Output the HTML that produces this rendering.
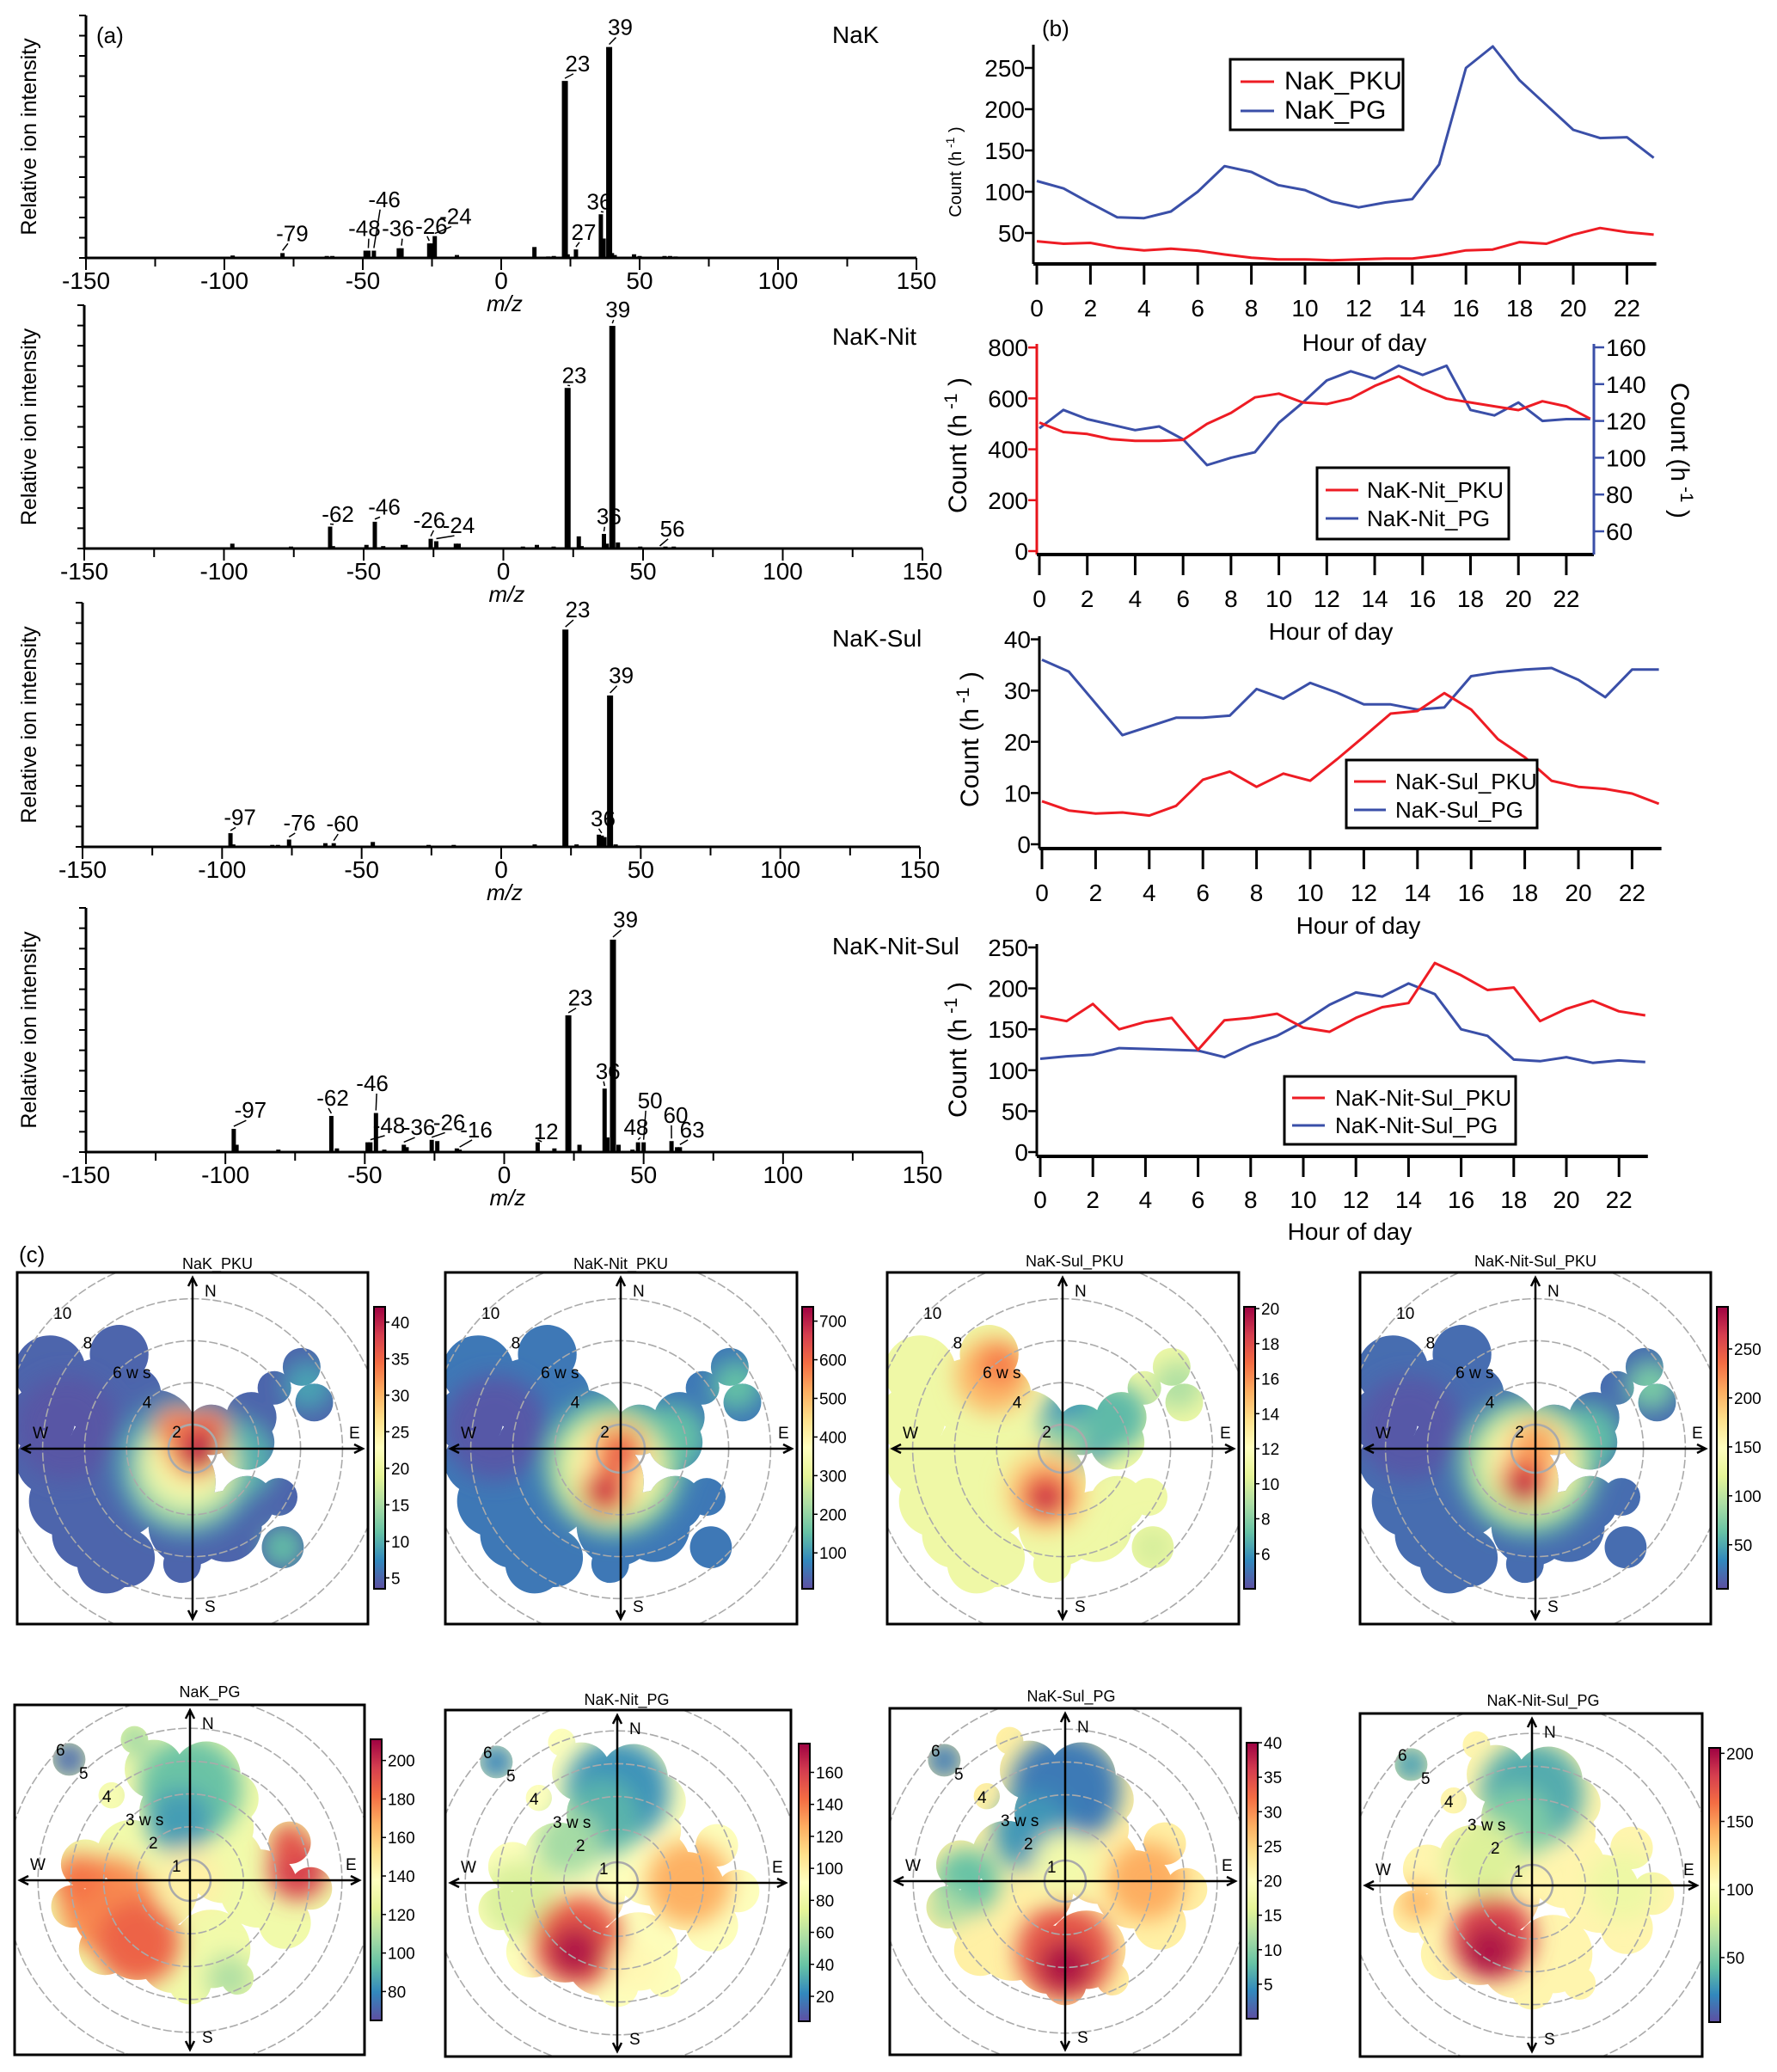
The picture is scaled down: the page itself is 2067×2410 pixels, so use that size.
<!DOCTYPE html>
<html><head><meta charset="utf-8">
<style>
body{margin:0;background:#fff}
svg{display:block}
text{font-family:"Liberation Sans",sans-serif;fill:#000}
</style></head>
<body>
<svg id="fig" xmlns="http://www.w3.org/2000/svg" width="2067" height="2410" viewBox="0 0 2067 2410">
<defs id="defs"></defs>
<rect x="0" y="0" width="2067" height="2410" fill="#fff"></rect>
</svg>
<script>
// ---------------- (a) spectra data ----------------
const spec1Mz=[-97,-79,-74,-63,-61,-49,-48,-46,-37,-36,-26,-25,-24,-16,12,17,19,23,24,27,36,37,39,40,41,48,50,59,61,63];
const spec1Int=[.01,.02,.005,.008,.008,.03,.03,.03,.04,.04,.06,.06,.09,.012,.045,.006,.008,.73,.015,.035,.18,.08,.87,.02,.012,.015,.008,.008,.008,.006];
const spec1LabText=['39','23','36','27','-46','-48','-36','-26','-24','-79'];
const spec1LabAt=[39,23,36,27,-46,-48,-36,-26,-24,-79];
const spec1LabMz=[43,27.6,35.4,29.8,-42.2,-49.4,-37.3,-25.2,-16.5,-75.5];
const spec1LabVal=[.92,.77,.2,.075,.21,.09,.09,.1,.14,.07];

const spec2Mz=[-97,-80,-76,-62,-61,-49,-46,-43,-41,-36,-35,-26,-24,-17,-16,7,12,18,23,27,28,36,37,39,41,46,49,53,58,61,63];
const spec2Int=[.02,.005,.008,.09,.01,.015,.11,.01,.005,.015,.015,.04,.03,.02,.02,.008,.015,.008,.66,.05,.01,.06,.02,.915,.025,.005,.008,.005,.008,.008,.005];
const spec2LabText=['39','23','36','56','-62','-46','-26','-24'];
const spec2LabAt=[39,23,36,56,-62,-46,-26,-24];
const spec2LabMz=[41,25.4,37.8,60.5,-59.2,-42.6,-26.5,-16];
const spec2LabVal=[.95,.68,.1,.05,.11,.14,.085,.063];

const spec3Mz=[-97,-96,-82,-80,-76,-63,-60,-50,-46,-43,-35,-26,-17,7,12,18,23,27,35,36,37,39,41,49,51,59,62];
const spec3Int=[.056,.01,.008,.008,.03,.015,.015,.005,.02,.005,.005,.008,.008,.005,.01,.005,.89,.01,.05,.046,.04,.62,.01,.006,.005,.005,.005];
const spec3LabText=['23','39','36','-97','-76','-60'];
const spec3LabAt=[23,39,36,-97,-76,-60];
const spec3LabMz=[27.4,43,36.5,-93.6,-72.3,-56.9];
const spec3LabVal=[.94,.67,.085,.09,.067,.063];

const spec4Mz=[-97,-96,-81,-73,-62,-60,-49,-48,-46,-43,-36,-35,-26,-24,-17,-16,7,12,18,23,27,36,37,39,41,46,48,50,56,60,62,63,74];
const spec4Int=[.095,.03,.01,.005,.148,.015,.04,.04,.16,.01,.03,.02,.05,.045,.015,.01,.005,.04,.015,.56,.03,.26,.06,.87,.03,.01,.04,.04,.005,.045,.02,.02,.005];
const spec4LabText=['39','23','36','50','60','63','48','12','-16','-26','-36','-48','-46','-62','-97'];
const spec4LabAt=[39,23,36,50,60,63,48,12,-16,-26,-36,-48,-46,-62,-97];
const spec4LabMz=[43.5,27.3,37.2,52.3,61.5,67.4,47.3,15,-10,-19.7,-30.5,-41.3,-47.3,-61.5,-91];
const spec4LabVal=[.92,.6,.3,.18,.12,.06,.07,.053,.06,.09,.07,.078,.25,.19,.14];

const specNames=['NaK','NaK-Nit','NaK-Sul','NaK-Nit-Sul'];
const mzTicks=[-150,-100,-50,0,50,100,150];

// ---------------- (b) diurnal data ----------------
const hours=[0,1,2,3,4,5,6,7,8,9,10,11,12,13,14,15,16,17,18,19,20,21,22,23];
const hourTicks=[0,2,4,6,8,10,12,14,16,18,20,22];
const nakPKU=[40,37,38,32,29,31,28.5,24,20,18,18,17,18,19,19,23,29,30,39,37,48,56,51,48];
const nakPG=[113,104,86,69,68,76,100,131,124,108,102,88,81,87,91,133,250,276,235,205,175,165,166,141];
const nitPKU=[505,468,460,440,433,433,437,500,543,604,619,584,578,600,649,687,637,599,584,569,554,589,569,520];
const nitPG=[116,126,121,118,115,117,110,96,100,103,119,130,142,147,143,150,145,150,126,123,130,120,121,121];
const sulPKU=[8.4,6.6,6.0,6.2,5.6,7.5,12.6,14.2,11.2,13.8,12.4,16.6,21.0,25.5,26,29.5,26.3,20.5,17,12.4,11.2,10.8,9.9,7.9];
const sulPG=[36,33.7,27.5,21.3,23,24.7,24.7,25.1,30.3,28.4,31.5,29.6,27.3,27.3,26.3,26.7,32.8,33.6,34.1,34.4,32.1,28.7,34.1,34.1];
const nsPKU=[166,160,181,150,159,164,125,161,164,169,152,147,164,177,182,231,216,198,201,160,175,185,172,167];
const nsPG=[114,117,119,127,126,125,124,116,131,142,159,180,195,190,206,193,150,142,113,111,116,109,112,110];
const c1Ticks=[50,100,150,200,250];
const c2TicksL=[0,200,400,600,800];
const c2TicksR=[60,80,100,120,140,160];
const c3Ticks=[0,10,20,30,40];
const c4Ticks=[0,50,100,150,200,250];

// ---------------- (c) polar data: wind u,v (m/s), radius (m/s), value ----------------
const maskRow1=[[-6.8,3.7,1.7],[-7.2,1.4,1.6],[-6.8,-.6,1.6],[-6.1,-2.5,1.7],[-5.1,-4.1,1.6],[-4.1,-5.5,1.4],[-3.5,4.5,1.4],[-4.5,2.5,1.8],[-4.1,0,1.8],[-3.3,-2.5,1.7],[-2.8,2.6,1.3],[-1.8,.8,2.0],[-1.2,-1.6,2.3],[-.2,-3.7,1.9],[1.6,-3.7,1.7],[2.6,-2.6,1.3],[2.6,.3,1.3],[2.8,1.5,1.2],[.9,.9,1.2],[-3.2,-5.2,1.4],[-.5,-5.5,.9],[5.2,3.9,.9],[5.8,2.2,.9],[3.9,2.9,.8],[4.3,-4.7,1.0],[4.1,-2.3,.9]];
const maskRow2=[[-3.7,3.7,.5],[-1.7,4.3,.42],[-1.1,3.4,.9],[.5,3.2,1.05],[1.3,2.5,.8],[-.5,2.1,1.05],[1.05,1.6,.9],[-2.4,2.6,.4],[-3.2,.5,.75],[-3.6,-.8,.65],[-2.5,-1.05,1.05],[-1.8,.8,1.05],[-1.05,-.25,1.3],[0,.8,1.2],[1.05,.5,1.2],[2.1,-.25,1.2],[3.05,1.15,.65],[3.7,-.25,.65],[-1.6,-1.85,1.2],[-.5,-2.4,1.05],[.65,-2.1,1.2],[1.45,-3.0,.5],[0,-3.15,.65],[-2.6,-2.1,.8],[2.9,-1.3,.8]];

const nakPkuBase=5;
const nakPkuSpots=[[-6,1,2.5,4],[-.3,-.8,3.4,9],[2,-.5,2.0,10],[5.5,3,1.2,9],[4.3,-4.7,1,11],[-.3,-1,2.6,15],[-.2,-.6,2.1,21],[0,0,1.6,28],[-.8,1.0,1.0,33],[.8,1.0,.9,34],[.2,-.1,1.1,38],[.5,0,.7,41]];
const nitPkuBase=60;
const nitPkuSpots=[[-6,1,2.5,20],[-.3,-.8,3.4,150],[2.5,.5,1.6,150],[5.5,3,1.2,150],[-.4,-1,2.7,280],[-.3,-.8,2.0,400],[-.1,0,1.3,520],[-.7,-2,1.2,580],[0,-.2,.9,620],[-.8,-2,.7,690]];
const sulPkuBase=11;
const sulPkuSpots=[[-3.3,3.5,1.8,15],[-3,4,1,16.5],[1,1.2,2.0,6],[2.5,1.5,1.6,7],[5.5,3,1.2,9],[4.3,-4.7,1,10],[.2,.3,1.1,8],[-.8,-2,2.0,14],[-.8,-2.2,1.3,17],[-.8,-2.4,.7,19]];
const nsPkuBase=20;
const nsPkuSpots=[[-6,1,2.5,10],[-.3,-.8,3.4,60],[2.5,.5,1.6,60],[5.5,3,1.2,70],[-.3,-.8,2.7,110],[-.2,-.6,2.0,160],[0,0,1.3,200],[-.5,-1.5,1.2,240],[0,.5,.7,215],[-.6,-1.8,.7,280]];

const nakPgBase=130;
const nakPgSpots=[[0,2.8,1.6,95],[-.3,1.8,1.0,85],[-3.7,3.7,.6,72],[-1.7,4.3,.5,105],[-2.5,-.8,1.5,175],[-1.6,-1.9,1.3,185],[-3.4,0,.8,180],[-2.4,2.6,.5,135],[3.3,.3,.9,195],[3.05,1.15,.6,190],[1.2,-3,.7,110],[0,0,1,145]];
const nitPgBase=90;
const nitPgSpots=[[0,2.8,1.6,25],[-.5,2,1.2,35],[-1.5,1.2,1,55],[-3.7,3.7,.6,20],[-3,-.5,1.2,70],[-1.2,-1.8,1.4,150],[-1.3,-2.1,.8,172],[2.2,0,1.3,125],[.6,-2.6,.8,95]];
const sulPgBase=22;
const sulPgSpots=[[0,2.8,1.7,3],[-1,1.5,1.2,5],[-3.7,3.7,.6,3],[-3,0,1,8],[-3.6,-.8,.6,12],[0,.5,1,18],[2.5,0,1.2,28],[0,-2.2,1.5,34],[0,-2.6,.8,39]];
const nsPgBase=110;
const nsPgSpots=[[0,2.8,1.6,35],[-.5,1.9,1.1,50],[-3.7,3.7,.6,30],[-1.5,.8,1.2,80],[-1.2,-1.6,1.3,180],[-1.3,-2,.8,198],[-3.5,-.5,.6,140],[2.8,0,1.1,90]];

const cb1Ticks=[5,10,15,20,25,30,35,40];
const cb2Ticks=[100,200,300,400,500,600,700];
const cb3Ticks=[6,8,10,12,14,16,18,20];
const cb4Ticks=[50,100,150,200,250];
const cb5Ticks=[80,100,120,140,160,180,200];
const cb6Ticks=[20,40,60,80,100,120,140,160];
const cb7Ticks=[5,10,15,20,25,30,35,40];
const cb8Ticks=[50,100,150,200];

// =========================================================
const NS='http://www.w3.org/2000/svg';
const svg=document.getElementById('fig');
const defs=document.getElementById('defs');
function mk(tag,attrs,parent){const e=document.createElementNS(NS,tag);for(const k in attrs)e.setAttribute(k,attrs[k]);(parent||svg).appendChild(e);return e;}
function txt(s,x,y,size,attrs,parent){const e=mk('text',Object.assign({x:x,y:y,'font-size':size},attrs||{}),parent);e.textContent=s;return e;}

// ---------------- spectra ----------------
const specLayout=[{x0:100,x1:1066,base:300,top:18,nameY:50},{x0:98,x1:1073,base:638,top:355,nameY:401},{x0:96,x1:1070,base:985,top:701,nameY:752},{x0:100,x1:1073,base:1340,top:1056,nameY:1110}];
const specData=[[spec1Mz,spec1Int,spec1LabText,spec1LabAt,spec1LabMz,spec1LabVal],[spec2Mz,spec2Int,spec2LabText,spec2LabAt,spec2LabMz,spec2LabVal],[spec3Mz,spec3Int,spec3LabText,spec3LabAt,spec3LabMz,spec3LabVal],[spec4Mz,spec4Int,spec4LabText,spec4LabAt,spec4LabMz,spec4LabVal]];
const pa=txt('(a)',112,50,26);


specLayout.forEach((L,i)=>{
  const g=mk('g',{});
  
  
  const xs=m=>L.x0+(m+150)/300*(L.x1-L.x0);
  const ys=v=>L.base-v*(L.base-L.top);
  const [mz,iv,lt,la,lm,lv]=specData[i];
  mz.forEach((m,j)=>{
    const w=(iv[j]>0.3)?7:5;
    const b=mk('rect',{x:xs(m)-w/2,y:ys(iv[j]),width:w,height:L.base-ys(iv[j]),fill:'#000'},g);
    
    
  });
  lt.forEach((t,j)=>{
    const tx=xs(lm[j]),ty=ys(lv[j]);
    const bx=xs(la[j]);
    const top=ys(iv[mz.indexOf(la[j])]||0);
    const ln=mk('line',{x1:bx,y1:top-3,x2:tx-(tx>bx?10:-10)*0.5,y2:ty+3,stroke:'#000','stroke-width':1.5},g);
    
    
    const e=txt(t,tx,ty,26,{'text-anchor':'middle'},g);
    
    
  });
  const ax=mk('path',{d:`M${L.x0},${L.top} V${L.base} H${L.x1}`,fill:'none',stroke:'#000','stroke-width':3},g);
  
  
  let d='';
  for(let k=0;k<=12;k++){const y=L.base-k*(L.base-L.top)/12;d+=`M${L.x0},${y} h-8 `;}
  for(let m=-150;m<=150;m+=25){d+=`M${xs(m)},${L.base} v${m%50===0?14:10} `;}
  const tk=mk('path',{d:d,stroke:'#000','stroke-width':2},g);
  
  
  mzTicks.forEach(m=>{
    const e=txt(String(m),xs(m),L.base+36,28,{'text-anchor':'middle'},g);
    
    
  });
  const xl=txt('m/z',(xs(0)+4),L.base+62,26,{'text-anchor':'middle','font-style':'italic'},g);
  
  
  const yc=(L.top+L.base)/2;
  const yl=txt('Relative ion intensity',42,yc,25,{'text-anchor':'middle',transform:`rotate(-90 42 ${yc})`},g);
  
  
  const nm=txt(specNames[i],968,L.nameY,28,{},g);
  
  
});

// ---------------- diurnal charts ----------------
function countLabel(x,y,size,color,rot,g){
  const e=mk('text',{x:x,y:y,'font-size':size,'text-anchor':'middle',fill:color,transform:`rotate(${rot} ${x} ${y})`},g);
  const t1=mk('tspan',{},e);t1.textContent='Count (h';
  const t2=mk('tspan',{'baseline-shift':'super','font-size':size*0.7},e);t2.textContent=' -1';
  const t3=mk('tspan',{},e);t3.textContent=' )';
  return e;
}
const charts=[
 {name:'nak',x0:1202,h0:1206,dx:31.2,base:307,top:56,ys:v=>319-v*0.96,ticks:c1Ticks,s1:nakPKU,s2:nakPG,ys2:null,lab1:'NaK_PKU',lab2:'NaK_PG',tickY:368,hodX:1587,hodY:408,ylX:1118,ylY:200,ylSize:20,ylColor:'#000',leg:[1431,69,201,82],legFont:30,legRows:[104,138],legLine:[1443,1482],legText:1494},
 {name:'nak-nit',x0:1206,h0:1209,dx:27.86,base:645,top:404,ys:v=>641-v*0.296,ticks:c2TicksL,s1:nitPKU,s2:nitPG,ys2:v=>618-(v-60)*2.14,xR:1854,lab1:'NaK-Nit_PKU',lab2:'NaK-Nit_PG',tickY:706,hodX:1548,hodY:744,ylX:1124,ylY:518,ylSize:30,ylColor:'#e8141b',leg:[1532,544,223,83],legFont:26,legRows:[579,612],legLine:[1542,1580],legText:1590},
 {name:'nak-sul',x0:1209,h0:1212,dx:31.2,base:987,top:744,ys:v=>982-v*5.96,ticks:c3Ticks,s1:sulPKU,s2:sulPG,ys2:null,lab1:'NaK-Sul_PKU',lab2:'NaK-Sul_PG',tickY:1048,hodX:1580,hodY:1086,ylX:1138,ylY:860,ylSize:30,ylColor:'#000',leg:[1566,884,222,79],legFont:26,legRows:[918,951],legLine:[1575,1612],legText:1623},
 {name:'nak-nit-sul',x0:1206,h0:1210,dx:30.6,base:1345,top:1102,ys:v=>1340-v*0.952,ticks:c4Ticks,s1:nsPKU,s2:nsPG,ys2:null,lab1:'NaK-Nit-Sul_PKU',lab2:'NaK-Nit-Sul_PG',tickY:1405,hodX:1570,hodY:1442,ylX:1124,ylY:1221,ylSize:30,ylColor:'#000',leg:[1494,1252,269,79],legFont:26,legRows:[1286,1318],legLine:[1503,1541],legText:1553}
];
const pb=txt('(b)',1212,42,26);


charts.forEach(C=>{
  const g=mk('g',{});
  
  
  const xs=h=>C.h0+h*C.dx;
  const xEnd=C.xR||xs(23)+3;
  const leftColor=C.ys2?'#e8141b':'#000';
  const p1=hours.map((h,i)=>`${i?'L':'M'}${xs(h).toFixed(1)},${C.ys(C.s1[i]).toFixed(1)}`).join(' ');
  const ys2=C.ys2||C.ys;
  const p2=hours.map((h,i)=>`${i?'L':'M'}${xs(h).toFixed(1)},${ys2(C.s2[i]).toFixed(1)}`).join(' ');
  const l2=mk('path',{d:p2,fill:'none',stroke:'#3a4fa8','stroke-width':3,'stroke-linejoin':'round'},g);
  
  
  const l1=mk('path',{d:p1,fill:'none',stroke:'#ee1c24','stroke-width':3,'stroke-linejoin':'round'},g);
  
  
  const ya=mk('line',{x1:C.x0,y1:C.top-4,x2:C.x0,y2:C.base,stroke:leftColor,'stroke-width':3},g);
  
  
  const xa=mk('line',{x1:C.x0,y1:C.base,x2:xEnd,y2:C.base,stroke:'#000','stroke-width':4},g);
  
  
  let d='';
  hourTicks.forEach(h=>{d+=`M${xs(h)},${C.base} v24 `;});
  const xt=mk('path',{d:d,stroke:'#000','stroke-width':3},g);
  
  
  hourTicks.forEach(h=>{
    const e=txt(String(h),xs(h),C.tickY,28,{'text-anchor':'middle'},g);
    
    
  });
  C.ticks.forEach(v=>{
    const y=C.ys(v);
    const t=mk('line',{x1:C.x0-10,y1:y,x2:C.x0,y2:y,stroke:leftColor,'stroke-width':2.5},g);
    
    
    const e=txt(String(v),C.x0-10,y+10,28,{'text-anchor':'end',fill:leftColor},g);
    
    
  });
  if(C.ys2){
    const ra=mk('line',{x1:C.xR,y1:C.top-4,x2:C.xR,y2:C.base,stroke:'#3a4fa8','stroke-width':3},g);
    
    
    c2TicksR.forEach(v=>{
      const y=C.ys2(v);
      const t=mk('line',{x1:C.xR,y1:y,x2:C.xR+12,y2:y,stroke:'#3a4fa8','stroke-width':2.5},g);
      
      
      const e=txt(String(v),C.xR+14,y+10,28,{fill:'#3a4fa8'},g);
      
      
    });
    const rl=countLabel(1944,524,30,'#3a4fa8',90,g);
    
    
  }
  const yl=countLabel(C.ylX,C.ylY,C.ylSize,C.ylColor,-90,g);
  
  
  const hod=txt('Hour of day',C.hodX,C.hodY,28,{'text-anchor':'middle'},g);
  
  
  const lg=mk('g',{},g);
  
  
  mk('rect',{x:C.leg[0],y:C.leg[1],width:C.leg[2],height:C.leg[3],fill:'#fff',stroke:'#000','stroke-width':3},lg);
  [[C.lab1,'#ee1c24'],[C.lab2,'#3a4fa8']].forEach((it,k)=>{
    const y=C.legRows[k];
    const s=mk('line',{x1:C.legLine[0],y1:y-9,x2:C.legLine[1],y2:y-9,stroke:it[1],'stroke-width':3},lg);
    
    
    const e=txt(it[0],C.legText,y,C.legFont,{},lg);
    
    
  });
});

// ---------------- polar plots ----------------
const spectral=['#5e4fa2','#3288bd','#66c2a5','#abdda4','#e6f598','#ffffbf','#fee08b','#fdae61','#f46d43','#d53e4f','#9e0142'];
function hex(c){return [1,3,5].map(i=>parseInt(c.substr(i,2),16));}
function cmap(v,min,max){
  let t=(v-min)/(max-min);t=Math.max(0,Math.min(1,t))*(spectral.length-1);
  const i=Math.min(Math.floor(t),spectral.length-2),f=t-i;
  const a=hex(spectral[i]),b=hex(spectral[i+1]);
  return 'rgb('+a.map((x,k)=>Math.round(x+(b[k]-x)*f)).join(',')+')';
}
const grad=mk('linearGradient',{id:'spec',x1:0,y1:1,x2:0,y2:0},defs);
spectral.forEach((c,i)=>mk('stop',{offset:i/(spectral.length-1),'stop-color':c},grad));
const blurF=mk('filter',{id:'blur',x:'-60%',y:'-60%',width:'220%',height:'220%'},defs);
mk('feGaussianBlur',{stdDeviation:13},blurF);

const r1=s=>s<=2?s*14:28+(s-2)*24.4;
const r2=s=>s<=1?s*24:24+(s-1)*38.2;
const polars=[
 {name:'NaK_PKU',box:[20,1480,408,409],cx:224,cy:1685,k:24.4,mask:maskRow1,base:nakPkuBase,spots:nakPkuSpots,min:3.5,max:42.1,ticks:cb1Ticks,bar:[435,1520,1848],tx:253,ty:1476,row:1},
 {name:'NaK-Nit_PKU',box:[518,1480,409,409],cx:722,cy:1685,k:24.4,mask:maskRow1,base:nitPkuBase,spots:nitPkuSpots,min:7,max:737,ticks:cb2Ticks,bar:[933,1520,1848],tx:722,ty:1476,row:1},
 {name:'NaK-Sul_PKU',box:[1032,1480,409,409],cx:1236,cy:1685,k:24.4,mask:maskRow1,base:sulPkuBase,spots:sulPkuSpots,min:4,max:20.1,ticks:cb3Ticks,bar:[1447,1520,1848],tx:1250,ty:1473,row:1},
 {name:'NaK-Nit-Sul_PKU',box:[1582,1480,408,409],cx:1786,cy:1685,k:24.4,mask:maskRow1,base:nsPkuBase,spots:nsPkuSpots,min:5,max:293,ticks:cb4Ticks,bar:[1997,1520,1848],tx:1786,ty:1473,row:1},
 {name:'NaK_PG',box:[17,1983,407,407],cx:221,cy:2187,k:38,mask:maskRow2,base:nakPgBase,spots:nakPgSpots,min:65,max:211,ticks:cb5Ticks,bar:[431,2023,2350],tx:244,ty:1974,row:2},
 {name:'NaK-Nit_PG',box:[518,1989,402,403],cx:718,cy:2190,k:38,mask:maskRow2,base:nitPgBase,spots:nitPgSpots,min:4.4,max:178,ticks:cb6Ticks,bar:[929,2028,2351],tx:729,ty:1983,row:2},
 {name:'NaK-Sul_PG',box:[1035,1987,408,403],cx:1239,cy:2188,k:38,mask:maskRow2,base:sulPgBase,spots:sulPgSpots,min:0,max:40,ticks:cb7Ticks,bar:[1450,2027,2348],tx:1246,ty:1979,row:2},
 {name:'NaK-Nit-Sul_PG',box:[1582,1993,398,399],cx:1782,cy:2193,k:38,mask:maskRow2,base:nsPgBase,spots:nsPgSpots,min:2.6,max:204,ticks:cb8Ticks,bar:[1988,2033,2352],tx:1795,ty:1984,row:2}
];
const pc=txt('(c)',22,1468,26);


polars.forEach((P,i)=>{
  const g=mk('g',{});
  
  
  const [bx,by,bw,bh]=P.box;
  const boxClip=mk('clipPath',{id:'bc'+i},defs);
  mk('rect',{x:bx,y:by,width:bw,height:bh},boxClip);
  const mClip=mk('clipPath',{id:'mc'+i},defs);
  P.mask.forEach(m=>mk('circle',{cx:P.cx+m[0]*P.k,cy:P.cy-m[1]*P.k,r:m[2]*P.k},mClip));
  const outer=mk('g',{'clip-path':`url(#bc${i})`},g);
  const heat=mk('g',{'clip-path':`url(#mc${i})`},outer);
  
  
  mk('rect',{x:bx,y:by,width:bw,height:bh,fill:cmap(P.base,P.min,P.max)},heat);
  const sg=mk('g',{filter:'url(#blur)'},heat);
  P.spots.forEach(s=>{
    const c=mk('circle',{cx:P.cx+s[0]*P.k,cy:P.cy-s[1]*P.k,r:s[2]*P.k,fill:cmap(s[3],P.min,P.max)},sg);
    
    
  });
  const speeds=P.row===1?[2,4,6,8,10]:[1,2,3,4,5,6];
  const rf=P.row===1?r1:r2;
  speeds.forEach((s,k)=>{
    const c=mk('circle',{cx:P.cx,cy:P.cy,r:rf(s),fill:'none',stroke:'#aaa','stroke-width':k===0?2.5:1.6,'stroke-dasharray':k===0?'none':'10 3'},outer);
    
    
    const ang=Math.PI*3/4;
    const lx=P.cx+Math.cos(ang)*rf(s)*1.0-4,ly=P.cy-Math.sin(ang)*rf(s)*1.0+7;
    const lab=(P.row===1&&s===6)||(P.row===2&&s===3)?s+' w s':String(s);
    const e=txt(lab,lx,ly,19,{'text-anchor':'start'},g);
    
    
  });
  const box=mk('rect',{x:bx,y:by,width:bw,height:bh,fill:'none',stroke:'#000','stroke-width':3},g);
  
  
  const ax=mk('path',{d:`M${P.cx},${by+6} V${by+bh-6} M${bx+6},${P.cy} H${bx+bw-6} M${P.cx-5},${by+16} L${P.cx},${by+6} L${P.cx+5},${by+16} M${P.cx-5},${by+bh-16} L${P.cx},${by+bh-6} L${P.cx+5},${by+bh-16} M${bx+16},${P.cy-5} L${bx+6},${P.cy} L${bx+16},${P.cy+5} M${bx+bw-16},${P.cy-5} L${bx+bw-6},${P.cy} L${bx+bw-16},${P.cy+5}`,fill:'none',stroke:'#000','stroke-width':2.5},g);
  
  
  [['N',P.cx+14,by+28],['S',P.cx+14,by+bh-14],['W',bx+18,P.cy-12],['E',bx+bw-22,P.cy-12]].forEach(c=>{
    const e=txt(c[0],c[1],c[2],19,{},g);
    
    
  });
  const ti=txt(P.name,P.tx,P.ty,18,{'text-anchor':'middle'},g);
  
  
  const [cx0,cy0,cy1]=P.bar;
  const cb=mk('rect',{x:cx0,y:cy0,width:13,height:cy1-cy0,fill:'url(#spec)',stroke:'#000','stroke-width':2},g);
  
  
  P.ticks.forEach(v=>{
    const y=cy1-(v-P.min)/(P.max-P.min)*(cy1-cy0);
    const t=mk('line',{x1:cx0+13,y1:y,x2:cx0+18,y2:y,stroke:'#000','stroke-width':1.5},g);
    
    
    const e=txt(String(v),cx0+20,y+7,19,{},g);
    
    
  });
});
</script>
</body></html>
